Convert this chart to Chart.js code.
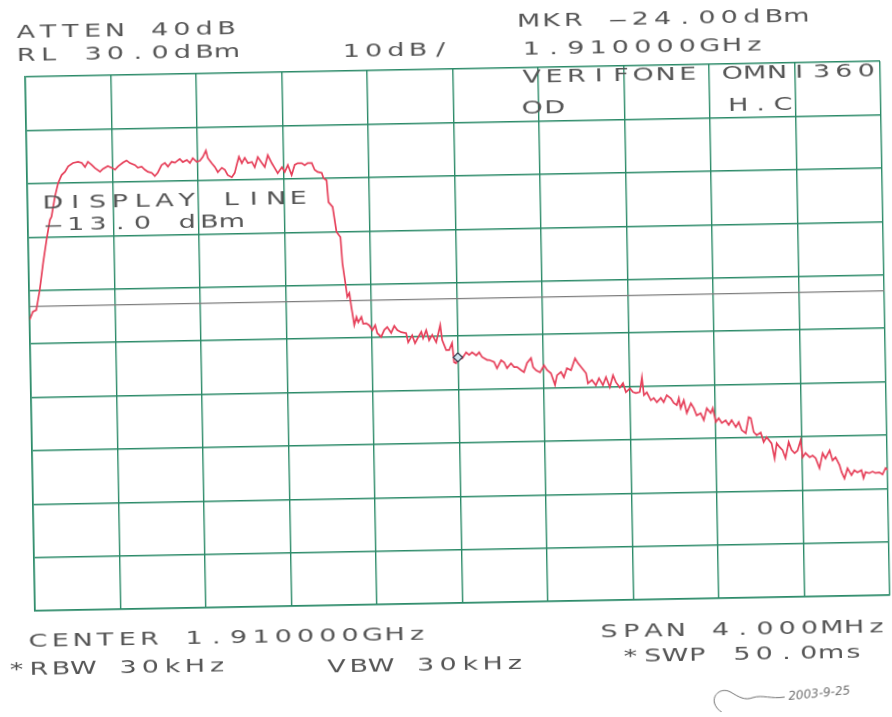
<!DOCTYPE html>
<html>
<head>
<meta charset="utf-8">
<script src="https://cdn.jsdelivr.net/npm/chart.js@4.4.0/dist/chart.umd.min.js"></script>
<style>
  html, body { margin: 0; padding: 0; background: #fff; overflow: hidden; }
  /* the scan is tilted about one degree */
  #wrap { width: 892px; height: 717px; transform: rotate(-1.05deg); transform-origin: 457px 336px; }
</style>
</head>
<body>
<div id="wrap"><canvas id="plot" width="892" height="717"></canvas></div>
<script>
// Sweep: offset from centre 1.910000 GHz in kHz, level in dBm
const freqKHz = [
  -2000,-1984,-1968,-1950,-1932,-1914,-1897,-1889,-1871,-1855,-1838,-1822,-1807,-1784,-1760,-1743,-1728,-1714,-1697,-1682,
  -1658,-1644,-1621,-1604,-1588,-1574,-1550,-1533,-1518,-1494,-1481,-1463,-1448,-1434,-1417,-1402,-1388,-1370,-1354,-1340,
  -1322,-1307,-1284,-1270,-1251,-1237,-1223,-1205,-1190,-1176,-1161,-1153,-1135,-1121,-1107,-1088,-1074,-1061,-1042,-1028,
  -1018,-1007,-994,-980,-966,-947,-934,-919,-901,-887,-872,-854,-841,-827,-807,-794,-779,-762,-747,-733,
  -714,-700,-686,-667,-654,-640,-621,-613,-599,-592,-573,-557,-539,-532,-520,-512,-502,-494,-490,-482,
  -471,-463,-448,-440,-426,-412,-398,-384,-375,-357,-342,-328,-310,-295,-281,-263,-240,-231,-212,-199,
  -184,-169,-161,-146,-133,-118,-100,-80,-72,-54,-40,-26,-18,-9,0,20,39,53,67,86,
  100,113,137,146,169,182,202,216,229,248,262,276,294,308,323,342,351,365,383,402,
  416,434,452,462,481,494,509,528,548,561,579,598,606,625,643,658,676,691,708,724,
  737,755,770,783,802,816,830,848,859,867,881,899,913,927,946,959,974,993,1006,1020,
  1030,1038,1053,1066,1086,1099,1112,1131,1145,1160,1178,1188,1201,1215,1229,1247,1261,1275,1294,1308,
  1321,1340,1355,1365,1377,1391,1410,1423,1437,1460,1473,1484,1497,1511,1524,1540,1553,1567,1581,1596,
  1604,1618,1637,1651,1665,1682,1698,1711,1731,1744,1758,1776,1785,1798,1813,1831,1845,1859,1878,1887,
  1897,1915,1930,1943,1962,1976,1991,2000
];
const levelDbm = [
  -15.5,-14.0,-13.7,-9.9,-4.9,-0.6,3.1,3.7,7.5,10.0,11.5,12.1,13.1,13.7,13.9,13.7,12.9,13.9,13.3,12.7,
  12.0,12.5,13.0,12.7,12.3,12.9,13.6,14.0,13.5,13.1,12.6,12.8,12.2,11.8,11.6,11.0,11.6,13.0,13.4,12.7,
  13.6,13.4,14.1,13.5,13.9,13.3,14.2,13.5,13.7,14.4,15.6,14.2,13.2,12.5,11.5,12.3,11.9,10.9,10.5,11.3,
  12.8,14.3,13.1,14.1,13.1,13.3,12.3,14.2,13.1,12.3,14.5,13.0,12.1,11.1,12.2,11.3,12.6,10.7,12.6,12.9,
  12.9,12.5,12.9,12.9,11.6,11.2,11.0,10.0,9.6,5.5,4.6,-0.1,-1.1,-6.0,-9.7,-12.3,-11.6,-14.2,-15.3,-17.6,
  -16.1,-17.1,-16.1,-17.4,-17.3,-17.7,-18.6,-17.7,-19.2,-19.9,-18.6,-18.1,-19.2,-17.9,-18.7,-19.1,-19.3,-21.0,-19.7,-21.2,
  -20.1,-19.1,-20.3,-18.8,-20.7,-19.7,-21.1,-17.9,-20.7,-22.6,-22.6,-21.3,-24.9,-25.1,-24.0,-24.2,-23.1,-23.6,-23.1,-23.7,
  -23.1,-24.0,-24.6,-24.6,-25.0,-26.2,-24.7,-25.1,-26.2,-25.3,-26.0,-26.0,-26.6,-27.0,-25.3,-24.4,-26.1,-26.7,-27.1,-25.8,
  -26.7,-27.3,-29.5,-27.7,-27.1,-28.1,-26.4,-26.8,-24.6,-25.5,-26.4,-27.4,-29.3,-28.7,-29.7,-28.4,-29.7,-28.2,-30.1,-27.9,
  -29.2,-30.2,-29.4,-31.1,-30.4,-31.1,-31.3,-31.1,-28.4,-31.7,-31.2,-32.7,-32.3,-33.1,-32.3,-33.1,-31.8,-32.4,-33.3,-33.7,
  -32.4,-34.3,-32.8,-35.2,-33.4,-34.3,-35.7,-35.3,-36.6,-34.4,-35.3,-34.4,-37.0,-36.3,-37.2,-36.7,-37.6,-36.7,-38.0,-37.1,
  -38.6,-39.2,-36.2,-36.4,-39.0,-39.6,-39.1,-40.9,-40.0,-41.2,-44.0,-41.2,-41.9,-42.5,-44.0,-41.0,-42.5,-43.1,-42.6,-40.7,
  -43.9,-43.1,-43.9,-43.6,-44.1,-46.0,-43.2,-44.2,-42.7,-44.6,-44.0,-45.5,-46.8,-48.0,-46.1,-47.4,-46.5,-46.9,-46.5,-48.0,
  -46.9,-47.1,-46.8,-47.1,-47.0,-47.4,-46.2,-46.6
];

// marker and display line
const markerKHz = [0];
const markerDbm = [-24.0];
const displayLineDbm = -13.0;

// scale: RL 30 dBm, 10 dB/div, span 4 MHz
const refLevel = 30;
const dbPerDiv = 10;
const spanKHz = 4000;

const gridGreen = '#2b8a68';
const traceRed = '#e6405a';
const inkGray = '#555555';

const tracePts = freqKHz.map((f, i) => ({ x: f, y: levelDbm[i] }));
const markerPts = markerKHz.map((f, i) => ({ x: f, y: markerDbm[i] }));
const dispPts = [{ x: -spanKHz / 2, y: displayLineDbm }, { x: spanKHz / 2, y: displayLineDbm }];

// printer-style annotation text, one character per fixed cell
const printerText = {
  id: 'printerText',
  afterDraw(chart, args, opts) {
    const ctx = chart.ctx;
    ctx.save();
    ctx.fillStyle = opts.color;
    ctx.font = opts.font;
    ctx.textAlign = 'center';
    ctx.textBaseline = 'alphabetic';
    opts.lines.forEach(l => {
      for (let i = 0; i < l.text.length; i++) {
        const c = l.text[i];
        if (c === ' ') continue;
        ctx.save();
        ctx.translate(l.x + opts.pitch * 0.38 + i * opts.pitch, l.y);
        // the plotter minus is a long dash
        ctx.scale(c === '-' ? opts.stretch * 2.2 : opts.stretch, 1);
        ctx.fillText(c, 0, 0);
        ctx.restore();
      }
    });
    ctx.restore();

    // signature and handwritten date in the corner
    ctx.save();
    ctx.strokeStyle = '#707070';
    ctx.fillStyle = '#707070';
    ctx.lineWidth = 1;
    ctx.beginPath();
    ctx.moveTo(716, 718);
    ctx.bezierCurveTo(698, 706, 712, 690, 724, 697);
    ctx.bezierCurveTo(732, 702, 738, 706, 746, 703);
    ctx.bezierCurveTo(756, 700, 764, 705, 778, 703);
    ctx.stroke();
    ctx.translate(782, 706);
    ctx.rotate(-0.08);
    ctx.font = 'italic 12px "DejaVu Sans"';
    ctx.textAlign = 'left';
    ctx.fillText('2003-9-25', 0, 0);
    ctx.restore();
  }
};

new Chart(document.getElementById('plot'), {
  type: 'line',
  data: {
    datasets: [
      { data: dispPts, borderColor: '#7d7d7d', borderWidth: 1.2, pointRadius: 0, order: 3 },
      { data: tracePts, borderColor: traceRed, borderWidth: 1.7, pointRadius: 0, tension: 0, order: 2 },
      { data: markerPts, showLine: false, pointStyle: 'rectRot', pointRadius: 4.5,
        pointBackgroundColor: '#cfe3ee', pointBorderColor: '#2d3a4a', pointBorderWidth: 1.3, order: 1 }
    ]
  },
  options: {
    responsive: false,
    animation: false,
    layout: { padding: { left: 30, top: 69, right: 7, bottom: 114 } },
    plugins: {
      legend: { display: false },
      tooltip: { enabled: false },
      printerText: {
        color: inkGray,
        font: '18px "DejaVu Sans"',
        pitch: 22.3,
        stretch: 1.5,
        lines: [
          { text: 'ATTEN 40dB', x: 23, y: 30 },
          { text: 'RL 30.0dBm', x: 23, y: 53 },
          { text: '10dB/', x: 348, y: 55 },
          { text: 'MKR -24.00dBm', x: 526, y: 28 },
          { text: '1.910000GHz', x: 528, y: 56 },
          { text: 'VERIFONE OMNI360', x: 528, y: 84 },
          { text: 'OD', x: 528, y: 115 },
          { text: 'H.C', x: 734, y: 116 },
          { text: 'DISPLAY LINE', x: 47, y: 201 },
          { text: '-13.0 dBm', x: 47, y: 223 },
          { text: 'CENTER 1.910000GHz', x: 24, y: 639 },
          { text: '*RBW 30kHz', x: 2, y: 667 },
          { text: 'VBW 30kHz', x: 322, y: 670 },
          { text: 'SPAN 4.000MHz', x: 595, y: 640 },
          { text: '*SWP 50.0ms', x: 616, y: 665 }
        ]
      }
    },
    scales: {
      x: {
        type: 'linear', min: -spanKHz / 2, max: spanKHz / 2,
        ticks: { stepSize: spanKHz / 10, display: false },
        grid: { color: gridGreen, lineWidth: 1.4, drawTicks: false },
        border: { color: gridGreen, width: 1.6 }
      },
      y: {
        min: refLevel - 10 * dbPerDiv, max: refLevel,
        ticks: { stepSize: dbPerDiv, display: false },
        grid: { color: gridGreen, lineWidth: 1.4, drawTicks: false },
        border: { color: gridGreen, width: 1.6 }
      }
    }
  },
  plugins: [printerText]
});
</script>
</body>
</html>
